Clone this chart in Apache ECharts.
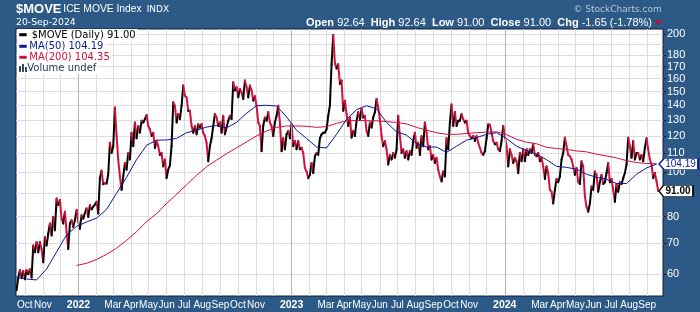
<!DOCTYPE html>
<html><head><meta charset="utf-8">
<script src="https://cdn.jsdelivr.net/npm/echarts@6/dist/echarts.min.js"></script>
<style>html,body{margin:0;padding:0;background:#2c5986;}#c{width:700px;height:312px;}</style>
</head><body><div id="c"></div>
<script>
const closes = [
55.3,58.9,61.2,58.9,60.9,58.4,61.2,59.9,61.4,58.9,
69.2,66.9,70.4,66.9,70.4,68.0,63.6,72.2,69.2,73.5,
77.3,72.8,79.9,74.7,87.6,84.8,87.0,79.2,77.3,82.0,
74.1,68.0,77.3,78.6,76.0,78.6,82.7,77.9,75.3,80.6,
79.2,81.5,83.4,79.9,84.8,83.0,84.1,85.0,86.2,81.3,
97.0,100.8,94.2,94.6,94.5,99.0,116.0,110.2,114.0,138.4,
120.0,106.6,97.9,91.5,97.9,104.8,101.3,110.2,106.6,122.0,
114.0,128.4,118.6,126.2,122.0,129.5,128.4,130.6,133.3,126.2,
124.1,120.0,122.0,113.0,117.0,114.0,109.1,110.2,103.0,106.6,
97.1,101.3,103.5,114.0,142.1,139.7,128.4,134.0,130.6,139.7,
154.6,147.0,145.7,136.2,136.2,126.2,122.0,126.2,121.0,127.3,
125.2,127.3,122.0,120.0,116.0,105.7,114.0,118.6,126.2,134.0,
131.7,126.2,128.4,122.0,132.8,121.0,125.2,129.5,132.8,130.6,
157.2,150.8,153.4,145.7,152.1,149.5,144.5,158.6,153.4,145.7,
154.6,150.8,143.3,146.5,139.7,128.4,126.2,111.2,126.2,131.7,
129.5,135.3,128.4,126.2,120.0,128.4,132.8,139.7,128.4,111.2,
118.6,112.2,121.0,123.1,118.6,127.3,114.0,117.0,112.2,117.0,
112.2,113.1,110.2,102.2,100.4,97.1,98.7,104.8,99.6,108.4,
110.2,109.1,118.6,121.0,122.0,122.0,124.1,132.8,140.0,172.0,
199.4,173.0,168.4,172.1,155.9,158.6,136.2,143.3,134.0,126.2,
131.7,119.0,123.1,120.0,129.5,135.3,130.6,137.6,131.7,132.8,
123.1,120.0,128.4,125.2,131.7,135.3,144.5,138.4,130.6,120.0,
114.0,117.0,112.2,104.0,109.1,106.6,110.2,107.5,112.2,132.8,
120.0,110.2,112.2,107.5,111.2,106.6,111.2,109.1,117.0,122.0,
113.1,116.0,109.1,120.0,114.0,128.4,122.0,112.2,114.0,106.6,
109.1,104.8,107.5,101.3,97.9,95.5,100.4,97.9,118.6,112.2,
128.4,140.5,126.2,135.3,126.2,129.5,129.5,134.0,130.6,128.4,
129.5,122.0,120.0,118.6,120.0,117.0,120.0,116.0,113.1,110.2,
109.1,111.2,118.6,127.3,127.0,122.0,117.0,115.1,116.0,112.2,
111.2,117.0,126.2,120.0,114.0,103.0,112.2,109.1,104.8,107.5,
105.7,99.6,110.2,105.7,112.2,105.7,112.2,109.1,112.2,110.2,
115.1,109.1,108.4,110.2,105.7,107.5,103.0,96.7,103.0,99.6,
91.5,90.7,85.5,91.5,96.7,95.1,97.9,106.6,110.2,119.0,
114.0,109.1,108.4,106.6,103.0,98.7,102.2,95.1,94.3,105.7,
103.0,88.5,84.1,82.0,85.5,93.1,91.5,100.4,98.7,90.7,
95.1,98.7,94.3,95.1,99.6,104.8,95.1,96.7,91.5,86.2,
94.3,90.7,95.1,94.3,97.1,99.6,104.0,119.0,114.0,107.5,
117.0,106.6,110.2,110.2,106.6,109.1,105.7,113.1,118.6,112.2,
106.6,104.0,97.1,99.6,95.5,91.0
];
// Moving averages sampled every 6 close-samples
const ma50 = [
58.9,58.5,58.2,61.5,67.0,73.0,76.2,77.9,79.4,83.0,
90.0,97.5,106.6,114.5,117.5,117.6,118.5,122.0,123.5,125.5,
126.5,125.0,128.5,134.5,139.7,140.0,139.5,132.0,123.5,118.5,
113.5,113.0,121.0,130.5,137.0,139.7,137.5,128.4,122.5,120.5,
115.5,113.5,113.5,110.5,114.0,117.5,119.0,121.0,122.0,118.5,
114.0,111.5,109.5,106.5,103.0,102.5,101.5,99.0,97.5,96.5,
94.5,94.5,99.0,102.2,104.19
];
const ma200 = [
null,null,null,null,null,null,62.6,63.3,64.5,66.2,
68.3,71.0,74.2,78.0,81.2,85.5,89.5,93.9,98.5,102.8,
106.3,109.8,113.1,116.5,120.0,123.0,125.3,126.2,126.2,126.0,
125.3,125.8,127.8,129.5,129.7,129.6,129.5,129.0,128.4,127.5,
125.3,123.5,122.0,121.0,121.0,121.5,122.0,122.3,122.5,120.8,
118.0,116.3,115.4,113.3,112.7,112.2,111.3,110.8,109.5,108.5,
107.5,106.0,105.0,104.5,104.35
];
const yTickValues = [60,70,80,90,100,110,120,130,140,150,160,170,180,190,200];
// one label per month from Oct 2021 to Sep 2024 ('' = not labelled)
const xTickLabels = ['Oct','Nov','','2022','','Mar','Apr','May','Jun','Jul','Aug','Sep',
  'Oct','Nov','','2023','','Mar','Apr','May','Jun','Jul','Aug','Sep',
  'Oct','Nov','','2024','','Mar','Apr','May','Jun','Jul','Aug','Sep'];
const lastClose = 91.00, lastMA50 = 104.19, lastMA200 = 104.35;

const DAY = 86400000;
const t0 = new Date(2021, 8, 17).getTime();
const step = 2.854 * DAY;
const axisMin = new Date(2021, 8, 16).getTime();
const axisMax = new Date(2024, 8, 28).getTime();

const times = closes.map((_, i) => t0 + i * step);
const segData = [];
for (let i = 1; i < closes.length; i++) segData.push([times[i-1], closes[i-1], times[i], closes[i]]);
const ma50Data = ma50.map((v, j) => [t0 + j * 6 * step, v]);
const ma200Data = ma200.map((v, j) => [t0 + j * 6 * step, v]);

const monthTicks = xTickLabels.map((_, i) => new Date(2021, 9 + i, 1).getTime());
const labelTicks = monthTicks.filter((_, i) => xTickLabels[i] !== '');
const yearTicks = monthTicks.filter((_, i) => /^\d{4}$/.test(xTickLabels[i]));
function xFmt(v) {
  const d = new Date(v);
  const idx = (d.getFullYear() - 2021) * 12 + d.getMonth() - 9;
  const s = xTickLabels[idx] || '';
  return /^\d{4}$/.test(s) ? '{y|' + s + '}' : s;
}

const NAVY = '#0c1896', RED = '#d4103c';
const chart = echarts.init(document.getElementById('c'));
chart.setOption({
  animation: false,
  backgroundColor: '#2c5986',
  grid: {left: 16, right: 37, top: 29, bottom: 16, show: true, backgroundColor: '#fff', borderColor: '#101c36', borderWidth: 1},
  xAxis: {
    type: 'value', min: axisMin, max: axisMax, scale: true,
    axisLine: {show: false},
    axisTick: {show: false, customValues: monthTicks},
    axisLabel: {customValues: labelTicks, formatter: xFmt, color: '#fff', fontSize: 10,
      fontFamily: 'Liberation Sans', margin: 4, hideOverlap: false, showMinLabel: true, showMaxLabel: true,
      rich: {y: {fontWeight: 'bold', fontSize: 10.5, color: '#fff', fontFamily: 'Liberation Sans'}}},
    splitLine: {show: true, lineStyle: {color: '#dedede', width: 1}}
  },
  yAxis: {
    type: 'log', logBase: 10, position: 'right', min: 53.7, max: 205.4,
    axisLine: {show: false},
    axisTick: {show: true, length: 3, customValues: yTickValues, lineStyle: {color: '#101c36'}},
    axisLabel: {customValues: yTickValues, color: '#fff', fontSize: 11, fontFamily: 'Liberation Sans', margin: 4,
      hideOverlap: false, showMinLabel: true, showMaxLabel: true,
      formatter: v => String(Math.round(v))},
    splitLine: {show: true, lineStyle: {color: '#dedede', width: 1}}
  },
  series: [
    {type: 'line', data: [], z: 1, silent: true,
     markLine: {silent: true, symbol: 'none', label: {show: false}, animation: false,
       lineStyle: {color: '#b5b5b5', width: 1, type: 'solid'},
       data: yearTicks.map(t => ({xAxis: t}))}},
    {type: 'custom', z: 3, clip: true,
     encode: {x: [0, 2], y: [1, 3]},
     data: segData,
     renderItem: function (params, api) {
       const a = api.coord([api.value(0), api.value(1)]);
       const b = api.coord([api.value(2), api.value(3)]);
       const up = api.value(3) >= api.value(1);
       return {type: 'line', shape: {x1: a[0], y1: a[1], x2: b[0], y2: b[1]},
         style: {stroke: up ? '#000' : RED, lineWidth: 2, lineCap: 'round'}};
     }},
    {type: 'line', data: ma200Data, z: 5, showSymbol: false, connectNulls: false,
     lineStyle: {color: RED, width: 1}},
    {type: 'line', data: ma50Data, z: 6, showSymbol: false,
     lineStyle: {color: NAVY, width: 1},
     markPoint: {
       symbol: 'path://M0,5.5 L5,0 L39,0 L39,11 L5,11 Z',
       animation: false,
       data: [
         {coord: [axisMax, lastMA50], symbolSize: [39, 11], symbolOffset: [15.5, 0],
          itemStyle: {color: '#fff', borderColor: NAVY, borderWidth: 1},
          label: {show: true, position: 'inside', formatter: lastMA50.toFixed(2), color: NAVY,
            fontSize: 10, fontFamily: 'Liberation Sans', offset: [2, 0]}},
         {coord: [axisMax, lastClose], symbolSize: [34, 11], symbolOffset: [13, 0],
          itemStyle: {color: '#fff', borderColor: '#000', borderWidth: 1},
          label: {show: true, position: 'inside', formatter: lastClose.toFixed(2), color: '#000',
            fontWeight: 'bold', fontSize: 10, fontFamily: 'Liberation Sans', offset: [2, 0]}}
       ]
     }}
  ],
  graphic: [
    {type: 'text', x: 16, y: 9, z: 100, style: {text: '$MOVE', fill: '#fff', fontSize: 13, fontWeight: 'bold', fontFamily: 'Liberation Sans', verticalAlign: 'middle'}},
    {type: 'text', x: 63.3, y: 9.5, z: 100, style: {text: 'ICE MOVE Index', fill: '#fff', fontSize: 10.3, fontFamily: 'Liberation Sans', verticalAlign: 'middle'}},
    {type: 'text', x: 146.7, y: 9.5, z: 100, style: {text: 'INDX', fill: '#fff', fontSize: 9, fontFamily: 'DejaVu Sans', verticalAlign: 'middle'}},
    {type: 'text', x: 16, y: 22.5, z: 100, style: {text: '20-Sep-2024', fill: '#fff', fontSize: 9.3, fontFamily: 'DejaVu Sans', verticalAlign: 'middle'}},
    {type: 'text', x: 661.7, y: 9.7, z: 100, style: {text: '\u00a9 StockCharts.com', fill: '#b9c6d6', fontSize: 9, fontFamily: 'DejaVu Sans', align: 'right', verticalAlign: 'middle'}},
    {type: 'text', x: 652, y: 22.5, z: 100, style: {
      text: '{b|Open} 92.64  {b|High} 92.64  {b|Low} 91.00  {b|Close} 91.00  {b|Chg} -1.65 (-1.78%)',
      fill: '#fff', fontSize: 11, fontFamily: 'Liberation Sans', align: 'right', verticalAlign: 'middle',
      rich: {b: {fontWeight: 'bold', fill: '#fff', fontSize: 11, fontFamily: 'Liberation Sans'}}}},
    {type: 'polygon', z: 100, shape: {points: [[655, 20.5], [662, 20.5], [658.5, 25]]}, style: {fill: '#c8102e'}},
    // legend
    {type: 'text', x: 17, y: 35, z: 100, style: {text: '$MOVE (Daily) 91.00', fill: '#000', fontSize: 10, fontFamily: 'DejaVu Sans', verticalAlign: 'middle', backgroundColor: '#fff', padding: [1, 2, 1, 14.7]}},
    {type: 'line', z: 101, shape: {x1: 19.3, y1: 34.7, x2: 26.7, y2: 34.7}, style: {stroke: '#000', lineWidth: 3}},
    {type: 'text', x: 17, y: 46.2, z: 100, style: {text: 'MA(50) 104.19', fill: NAVY, fontSize: 10, fontFamily: 'DejaVu Sans', verticalAlign: 'middle', backgroundColor: '#fff', padding: [1, 2, 1, 12.3]}},
    {type: 'line', z: 101, shape: {x1: 19.3, y1: 46.3, x2: 26.7, y2: 46.3}, style: {stroke: NAVY, lineWidth: 3}},
    {type: 'text', x: 17, y: 57.5, z: 100, style: {text: 'MA(200) 104.35', fill: RED, fontSize: 10, fontFamily: 'DejaVu Sans', verticalAlign: 'middle', backgroundColor: '#fff', padding: [1, 2, 1, 12.3]}},
    {type: 'line', z: 101, shape: {x1: 19.3, y1: 57.3, x2: 26.7, y2: 57.3}, style: {stroke: RED, lineWidth: 3}},
    {type: 'text', x: 17, y: 68, z: 100, style: {text: 'Volume undef', fill: '#223355', fontSize: 10, fontFamily: 'DejaVu Sans', verticalAlign: 'middle', backgroundColor: '#fff', padding: [1, 2, 1, 10.3]}},
    {type: 'rect', z: 101, shape: {x: 19, y: 66, width: 2, height: 6}, style: {fill: '#3a4a6a'}},
    {type: 'rect', z: 101, shape: {x: 22, y: 64, width: 2, height: 8}, style: {fill: '#3a4a6a'}},
    {type: 'rect', z: 101, shape: {x: 25, y: 67, width: 2, height: 5}, style: {fill: '#3a4a6a'}}
  ]
});
</script></body></html>
